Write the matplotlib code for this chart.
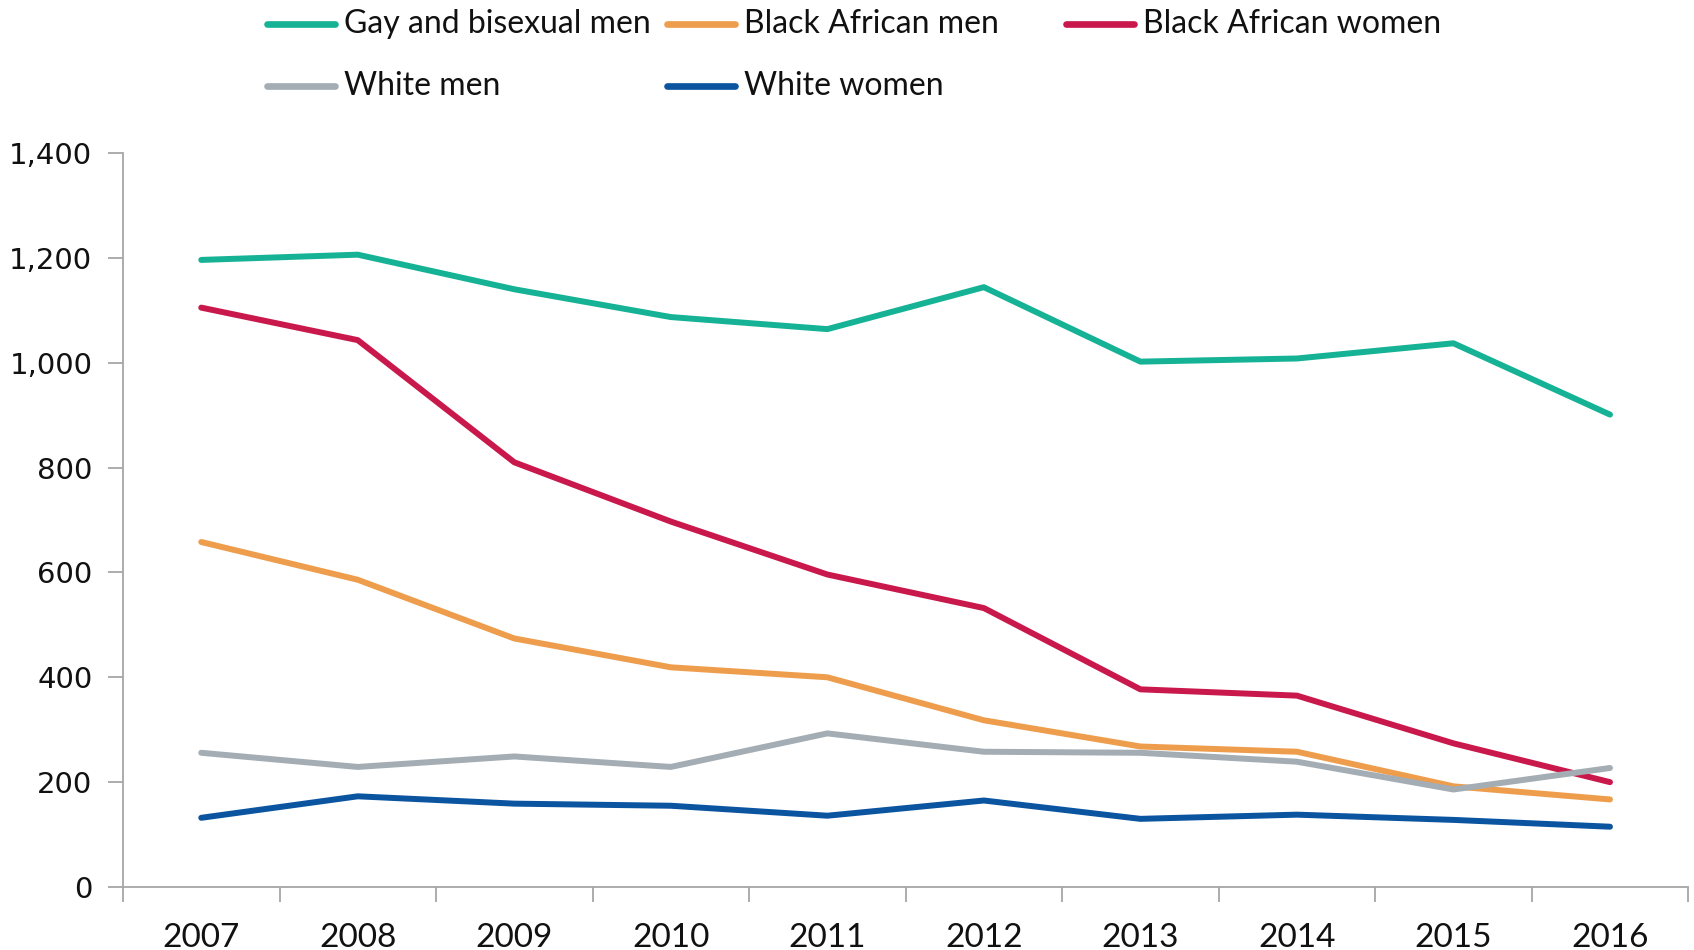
import matplotlib
matplotlib.use("Agg")
import matplotlib.pyplot as plt
import numpy as np
from matplotlib.lines import Line2D
from matplotlib.ticker import FuncFormatter

# data
years = ["2007", "2008", "2009", "2010", "2011", "2012", "2013", "2014", "2015", "2016"]
gay_bi_men = [1196, 1206, 1140, 1087, 1064, 1144, 1002, 1008, 1037, 901]
black_african_men = [658, 586, 474, 419, 400, 318, 268, 258, 192, 167]
black_african_women = [1105, 1043, 810, 697, 596, 532, 377, 365, 274, 200]
white_men = [256, 229, 249, 229, 293, 258, 256, 239, 186, 227]
white_women = [132, 173, 159, 155, 136, 165, 130, 138, 128, 115]

series_names = ["Gay and bisexual men", "Black African men", "Black African women",
                "White men", "White women"]
series_values = [gay_bi_men, black_african_men, black_african_women, white_men, white_women]
series_colors = ["#16B295", "#EE9D4C", "#C9184B", "#A4ADB3", "#0A54A0"]

fig = plt.figure(figsize=(16.94, 9.5), dpi=100)
ax = fig.add_axes([0.0726, 0.0663, 0.924, 0.7727])

x = np.arange(len(years))
for vals, col in zip(series_values, series_colors):
    ax.plot(x, vals, color=col, lw=4.3, solid_capstyle="round", solid_joinstyle="round")

ax.set_xlim(-0.5, len(years) - 0.5)
ax.set_ylim(0, 1400)

axis_grey = "#A6A6A6"
for side in ["top", "right"]:
    ax.spines[side].set_visible(False)
for side in ["left", "bottom"]:
    ax.spines[side].set_color(axis_grey)
    ax.spines[side].set_linewidth(1.3)

ax.set_yticks(np.arange(0, 1401, 200))
ax.yaxis.set_major_formatter(FuncFormatter(lambda v, p: f"{int(v):,}"))
ax.tick_params(axis="y", length=11, width=1.3, color=axis_grey, pad=11,
               labelsize=21, labelcolor="#111111")
for lab in ax.get_yticklabels():
    lab.set_family("DejaVu Sans")

# category boundaries get ticks, labels sit at the centres
ax.set_xticks(np.arange(-0.5, len(years), 1.0))
ax.set_xticklabels([])
ax.tick_params(axis="x", which="major", length=11, width=1.3, color=axis_grey)
ax.set_xticks(x, minor=True)
ax.set_xticklabels(years, minor=True, fontsize=24, family="Lato", color="#111111")
ax.tick_params(axis="x", which="minor", length=0, pad=26)

# legend laid out like the original: 3 columns, 2 rows
col_x = [267 / 1694, 667 / 1694, 1066 / 1694]
row_y = [1 - 24 / 950, 1 - 86 / 950]
handle_w = 68 / 1694
text_gap = 9 / 1694
for i, (name, col) in enumerate(zip(series_names, series_colors)):
    cx = col_x[i % 3]
    cy = row_y[i // 3]
    fig.add_artist(Line2D([cx, cx + handle_w], [cy, cy], color=col, lw=4.8,
                          solid_capstyle="round", transform=fig.transFigure))
    fig.text(cx + handle_w + text_gap, cy, name, fontsize=23, family="Lato",
             color="#111111", va="center", ha="left")

fig.savefig("out.png", dpi=100)
